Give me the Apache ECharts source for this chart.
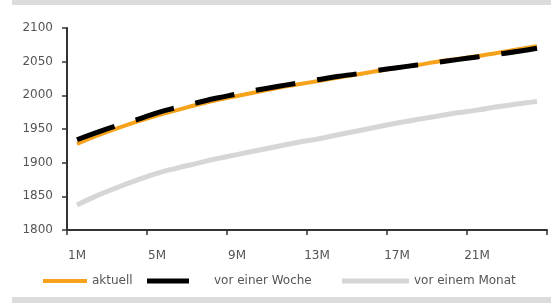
<!DOCTYPE html>
<html>
<head>
<meta charset="utf-8">
<script src="https://cdn.jsdelivr.net/npm/echarts@6/dist/echarts.min.js"></script>
<style>
  html, body { margin: 0; padding: 0; background: #fff; }
  #chart { width: 551px; height: 303px; }
</style>
</head>
<body>
<div id="chart"></div>
<script>
// Laufzeiten 1M .. 24M
var months = ["1M","2M","3M","4M","5M","6M","7M","8M","9M","10M","11M","12M",
              "13M","14M","15M","16M","17M","18M","19M","20M","21M","22M","23M","24M"];
var aktuell = [1928,1940,1951,1961,1970,1978,1986,1993,1999,2005,2011,2016,
               2021,2026,2031,2036,2041,2045,2050,2054,2058,2063,2068,2073];
var vorEinerWoche = [1934,1945,1955,1964,1974,1982,1989,1996,2002,2008,2013,2018,
                     2023,2028,2032,2037,2041,2045,2049,2053,2057,2061,2065,2070];
var vorEinemMonat = [1837,1851,1863,1874,1884,1892,1899,1906,1912,1918,1924,1930,
                     1935,1941,1947,1953,1959,1964,1969,1974,1978,1983,1987,1991];
var yTicks = [1800, 2100, 50]; // min, max, step

var myChart = echarts.init(document.getElementById("chart"));
var axisColor = "#333";
var labelColor = "#555";
var font = "DejaVu Sans";

var option = {
  animation: false,
  backgroundColor: "#fff",
  grid: { left: 67, right: 4, top: 28, bottom: 73 },
  graphic: [
    { type: "rect", shape: { x: 12, y: 0, width: 539, height: 5 }, style: { fill: "#dcdcdc" } },
    { type: "rect", shape: { x: 12, y: 297, width: 539, height: 6 }, style: { fill: "#dcdcdc" } }
  ],
  legend: [
    {
      data: ["aktuell"], left: 38, top: 270, icon: "rect",
      itemWidth: 44, itemHeight: 4,
      textStyle: { color: labelColor, fontSize: 12, fontFamily: font }
    },
    {
      data: [{ name: "vor einer Woche", textStyle: { padding: [0, 0, 0, 20] } }],
      left: 142, top: 270, icon: "rect",
      itemWidth: 42, itemHeight: 5,
      textStyle: { color: labelColor, fontSize: 12, fontFamily: font }
    },
    {
      data: ["vor einem Monat"], left: 337, top: 270, icon: "rect",
      itemWidth: 67, itemHeight: 5,
      textStyle: { color: labelColor, fontSize: 12, fontFamily: font }
    }
  ],
  xAxis: {
    type: "category",
    data: months,
    boundaryGap: true,
    axisLine: { show: true, onZero: false, lineStyle: { color: axisColor, width: 2 } },
    axisTick: { show: true, interval: 3, length: 5, lineStyle: { color: axisColor, width: 1.5 } },
    axisLabel: { interval: 3, color: labelColor, fontSize: 12, fontFamily: font, margin: 20 }
  },
  yAxis: {
    type: "value",
    min: yTicks[0],
    max: yTicks[1],
    interval: yTicks[2],
    axisLine: { show: true, onZero: false, lineStyle: { color: axisColor, width: 2 } },
    axisTick: { show: true, length: 5, lineStyle: { color: axisColor, width: 1.5 } },
    axisLabel: {
      color: labelColor, fontSize: 12, fontFamily: font, margin: 14,
      formatter: function (v) { return String(v); }
    },
    splitLine: { show: false }
  },
  series: [
    {
      name: "vor einem Monat",
      type: "line",
      data: vorEinemMonat,
      smooth: true,
      symbol: "none",
      itemStyle: { color: "#d6d6d6" },
      lineStyle: { color: "#d6d6d6", width: 5 }
    },
    {
      name: "aktuell",
      type: "line",
      data: aktuell,
      smooth: true,
      symbol: "none",
      itemStyle: { color: "#f7a21b" },
      lineStyle: { color: "#f7a21b", width: 4 }
    },
    {
      name: "vor einer Woche",
      type: "line",
      data: vorEinerWoche,
      smooth: true,
      symbol: "none",
      itemStyle: { color: "#000" },
      lineStyle: { color: "#000", width: 5, type: [40, 22], cap: "butt" }
    }
  ]
};
myChart.setOption(option);
window.addEventListener("resize", function () {
  myChart.resize();
});
</script>
</body>
</html>
